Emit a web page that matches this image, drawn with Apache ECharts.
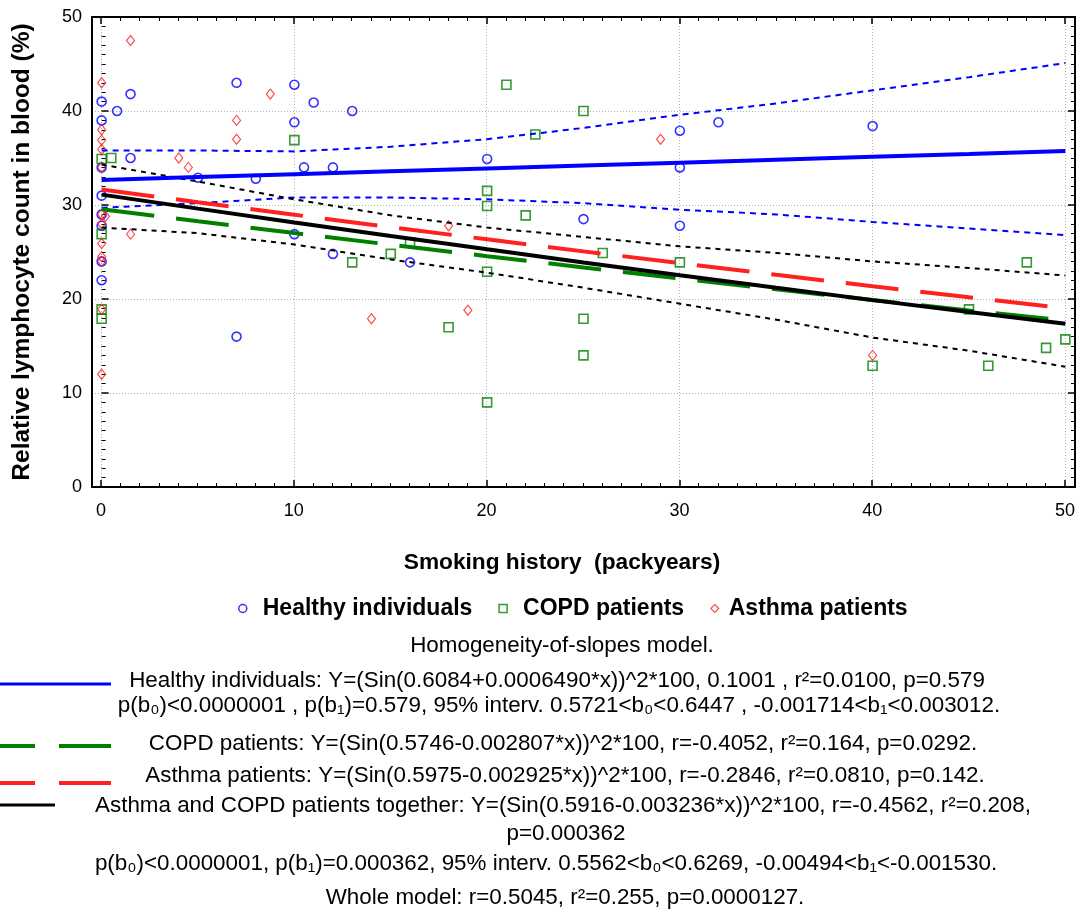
<!DOCTYPE html>
<html>
<head>
<meta charset="utf-8">
<script src="https://cdn.jsdelivr.net/npm/echarts@6/dist/echarts.min.js"></script>
<style>
  html, body { margin: 0; padding: 0; background: #ffffff; }
  #chart { width: 1081px; height: 915px; }
</style>
</head>
<body>
<div id="chart"></div>
<script>
// Observations: [smoking history (packyears), relative lymphocyte count (%)]
const healthyPoints = [
  [0, 41], [0, 39], [0, 34], [0, 31], [0, 29], [0, 27.8], [0, 24], [0, 22],
  [0.8, 40], [1.5, 41.8], [1.5, 35], [5, 32.9], [7, 43], [7, 16], [8, 32.8],
  [10, 42.8], [10, 38.8], [10, 26.9], [10.5, 34], [11, 40.9], [12, 34], [12, 24.8],
  [13, 40], [16, 23.9], [20, 34.9], [25, 28.5], [30, 37.9], [30, 34], [30, 27.8],
  [32, 38.8], [40, 38.4]
];
const copdPoints = [
  [0, 34.9], [0.5, 35], [0, 26.9], [0, 18.9], [0, 17.9], [10, 36.9], [13, 23.9],
  [15, 24.8], [16, 26], [18, 17], [20, 31.5], [20, 29.9], [20, 22.9], [20, 9],
  [21, 42.8], [22, 28.9], [22.5, 37.5], [25, 40], [25, 17.9], [25, 14], [26, 24.9],
  [30, 23.9], [40, 12.9], [45, 18.9], [46, 12.9], [48, 23.9], [49, 14.8], [50, 15.7]
];
const asthmaPoints = [
  [0, 43], [0, 38], [0, 36.9], [0, 35.9], [0, 34], [0, 29], [0.2, 28.8], [0, 28],
  [0, 25.9], [0, 24.5], [0, 24], [0, 18.9], [0, 12], [1.5, 47.5], [1.5, 26.9],
  [4, 35], [4.5, 34], [7, 39], [7, 37], [8.75, 41.8], [14, 17.9], [18, 27.8],
  [19, 18.8], [29, 37], [40, 14]
];

// Model coefficients [b0, b1] for Y = (sin(b0 + b1*x))^2 * 100
const healthyFit = [0.6084, 0.0006490];
const copdFit = [0.5746, -0.002807];
const asthmaFit = [0.5975, -0.002925];
const combinedFit = [0.5916, -0.003236];

// 95% confidence bands
const bandX = [0, 5, 10, 15, 20, 25, 30, 35, 40, 45, 50];
const healthyUpper = [35.8, 35.8, 35.7, 36.2, 37.0, 38.2, 39.6, 40.8, 42.2, 43.6, 45.1];
const healthyLower = [29.7, 30.2, 30.8, 30.8, 30.6, 30.2, 29.5, 29.0, 28.2, 27.5, 26.8];
const combinedUpper = [34.3, 32.5, 30.6, 28.9, 27.6, 26.6, 25.6, 24.9, 24.0, 23.3, 22.5];
const combinedLower = [27.6, 27.0, 25.8, 24.2, 22.8, 21.2, 19.5, 17.8, 15.9, 14.5, 12.8];

const seriesNames = ['Healthy individuals', 'COPD patients', 'Asthma patients'];
const xTitle = 'Smoking history  (packyears)';
const yTitle = 'Relative lymphocyte count in blood (%)';
const noteLines = [
  'Homogeneity-of-slopes model.',
  'Healthy individuals: Y=(Sin(0.6084+0.0006490*x))^2*100, 0.1001 , r\u00b2=0.0100, p=0.579',
  'p(b\u2080)<0.0000001 , p(b\u2081)=0.579, 95% interv. 0.5721<b\u2080<0.6447 , -0.001714<b\u2081<0.003012.',
  'COPD patients: Y=(Sin(0.5746-0.002807*x))^2*100, r=-0.4052, r\u00b2=0.164, p=0.0292.',
  'Asthma patients: Y=(Sin(0.5975-0.002925*x))^2*100, r=-0.2846, r\u00b2=0.0810, p=0.142.',
  'Asthma and COPD patients together: Y=(Sin(0.5916-0.003236*x))^2*100, r=-0.4562, r\u00b2=0.208,',
  'p=0.000362',
  'p(b\u2080)<0.0000001, p(b\u2081)=0.000362, 95% interv. 0.5562<b\u2080<0.6269, -0.00494<b\u2081<-0.001530.',
  'Whole model: r=0.5045, r\u00b2=0.255, p=0.0000127.'
];

const BLUE = '#0000ff', GREEN = '#008000', RED = '#ff2020', BLACK = '#000000';
const FONT = '"Liberation Sans", Arial, sans-serif';

function fitCurve(coef) {
  return bandX.map(x => {
    const s = Math.sin(coef[0] + coef[1] * x);
    return [x, s * s * 100];
  });
}
function pairs(xs, ys) { return xs.map((x, i) => [x, ys[i]]); }

function lineSeries(data, color, width, dash, z) {
  return {
    type: 'line', xAxisIndex: 0, yAxisIndex: 0, data: data,
    symbol: 'none', silent: true, z: z,
    lineStyle: { color: color, width: width, type: dash }
  };
}
function scatterSeries(name, data, symbol, size, color, bw) {
  return {
    type: 'scatter', name: name, xAxisIndex: 0, yAxisIndex: 0, data: data,
    symbol: symbol, symbolSize: size, z: 2,
    itemStyle: { color: 'rgba(0,0,0,0)', borderColor: color, borderWidth: bw }
  };
}

const dotted = { show: true, lineStyle: { color: '#b0b0b0', width: 1, type: [1, 2] } };
const tickIn = { show: true, inside: true, length: 7, lineStyle: { color: BLACK, width: 1.5 } };
const minorIn = { show: true, splitNumber: 10, length: 4, lineStyle: { color: BLACK, width: 1 } };

// Note lines: centre x, centre y
const notePos = [
  [562, 646], [557, 681], [559, 706], [563, 744], [565, 776],
  [563, 806], [566, 834], [546, 864], [565, 898]
];

const graphics = [
  { type: 'rect', z: 50, silent: true,
    shape: { x: 92, y: 17, width: 983, height: 470 },
    style: { fill: 'none', stroke: BLACK, lineWidth: 2 } },
  { type: 'text', x: 562, y: 563, silent: true,
    style: { text: xTitle, font: 'bold 22.7px ' + FONT, fill: BLACK, textAlign: 'center', textVerticalAlign: 'middle' } },
  { type: 'text', x: 22, y: 252, rotation: Math.PI / 2, silent: true,
    style: { text: yTitle, font: 'bold 24.5px ' + FONT, fill: BLACK, textAlign: 'center', textVerticalAlign: 'middle' } },
  // line keys for the model description
  { type: 'line', silent: true, shape: { x1: 0, y1: 684, x2: 111, y2: 684 }, style: { stroke: BLUE, lineWidth: 3 } },
  { type: 'line', silent: true, shape: { x1: 0, y1: 746, x2: 35, y2: 746 }, style: { stroke: GREEN, lineWidth: 4 } },
  { type: 'line', silent: true, shape: { x1: 59, y1: 746, x2: 111, y2: 746 }, style: { stroke: GREEN, lineWidth: 4 } },
  { type: 'line', silent: true, shape: { x1: 0, y1: 783, x2: 35, y2: 783 }, style: { stroke: RED, lineWidth: 4 } },
  { type: 'line', silent: true, shape: { x1: 59, y1: 783, x2: 111, y2: 783 }, style: { stroke: RED, lineWidth: 4 } },
  { type: 'line', silent: true, shape: { x1: 0, y1: 805, x2: 55, y2: 805 }, style: { stroke: BLACK, lineWidth: 3 } }
];
noteLines.forEach((t, i) => {
  graphics.push({ type: 'text', x: notePos[i][0], y: notePos[i][1], silent: true,
    style: { text: t, font: '22.4px ' + FONT, fill: BLACK, textAlign: 'center', textVerticalAlign: 'middle' } });
});

const legendText = { color: BLACK, fontSize: 23, fontWeight: 'bold', fontFamily: FONT };

const chart = echarts.init(document.getElementById('chart'), null, { renderer: 'canvas' });
chart.setOption({
  animation: false,
  backgroundColor: '#ffffff',
  grid: [
    { left: 92, right: 6, top: 17, height: 470 },
    { left: 101, right: 16, top: 17, height: 470 }
  ],
  xAxis: [
    { gridIndex: 0, type: 'value', min: -0.5, max: 50.5, show: false },
    { gridIndex: 1, type: 'value', min: 0, max: 50, interval: 10, position: 'bottom',
      axisLine: { show: false }, axisTick: tickIn, minorTick: minorIn, splitLine: dotted,
      axisLabel: { color: BLACK, fontSize: 18, fontFamily: FONT, margin: 15 } },
    { gridIndex: 1, type: 'value', min: 0, max: 50, interval: 10, position: 'top',
      axisLine: { show: false }, axisTick: tickIn, minorTick: minorIn,
      splitLine: { show: false }, axisLabel: { show: false } }
  ],
  yAxis: [
    { gridIndex: 0, type: 'value', min: 0, max: 50, interval: 10, position: 'left',
      axisLine: { show: false }, axisTick: tickIn, minorTick: minorIn, splitLine: dotted,
      axisLabel: { color: BLACK, fontSize: 18, fontFamily: FONT, margin: 10 } },
    { gridIndex: 0, type: 'value', min: 0, max: 50, interval: 10, position: 'right',
      axisLine: { show: false }, axisTick: tickIn, minorTick: minorIn,
      splitLine: { show: false }, axisLabel: { show: false } },
    { gridIndex: 1, type: 'value', min: 0, max: 50, show: false }
  ],
  legend: {
    top: 597, left: 238, padding: 0, itemWidth: 8, itemHeight: 8, itemGap: 26,
    selectedMode: false,
    textStyle: legendText,
    data: [
      { name: seriesNames[0], icon: 'circle',
        itemStyle: { color: '#fff', borderColor: BLUE, borderWidth: 1.5 },
        textStyle: Object.assign({ padding: [0, 0, 0, 11] }, legendText) },
      { name: seriesNames[1], icon: 'rect',
        itemStyle: { color: '#fff', borderColor: GREEN, borderWidth: 1.5 },
        textStyle: Object.assign({ padding: [0, 0, 0, 11] }, legendText) },
      { name: seriesNames[2], icon: 'diamond',
        itemStyle: { color: '#fff', borderColor: RED, borderWidth: 1.2 },
        textStyle: Object.assign({ padding: [0, 0, 0, 5] }, legendText) }
    ]
  },
  series: [
    scatterSeries(seriesNames[0], healthyPoints, 'circle', 9, BLUE, 1.6),
    scatterSeries(seriesNames[1], copdPoints, 'rect', 9, GREEN, 1.6),
    scatterSeries(seriesNames[2], asthmaPoints, 'diamond', [8, 10], RED, 1.2),
    lineSeries(pairs(bandX, healthyUpper), BLUE, 2, [6, 5], 3),
    lineSeries(pairs(bandX, healthyLower), BLUE, 2, [6, 5], 3),
    lineSeries(pairs(bandX, combinedUpper), BLACK, 2, [5, 5], 3),
    lineSeries(pairs(bandX, combinedLower), BLACK, 2, [5, 5], 3),
    lineSeries(fitCurve(copdFit), GREEN, 4, [53, 22], 4),
    lineSeries(fitCurve(asthmaFit), RED, 4, [53, 22], 4),
    lineSeries(fitCurve(combinedFit), BLACK, 4, 'solid', 5),
    lineSeries(fitCurve(healthyFit), BLUE, 4, 'solid', 5)
  ],
  graphic: graphics
});
</script>
</body>
</html>
